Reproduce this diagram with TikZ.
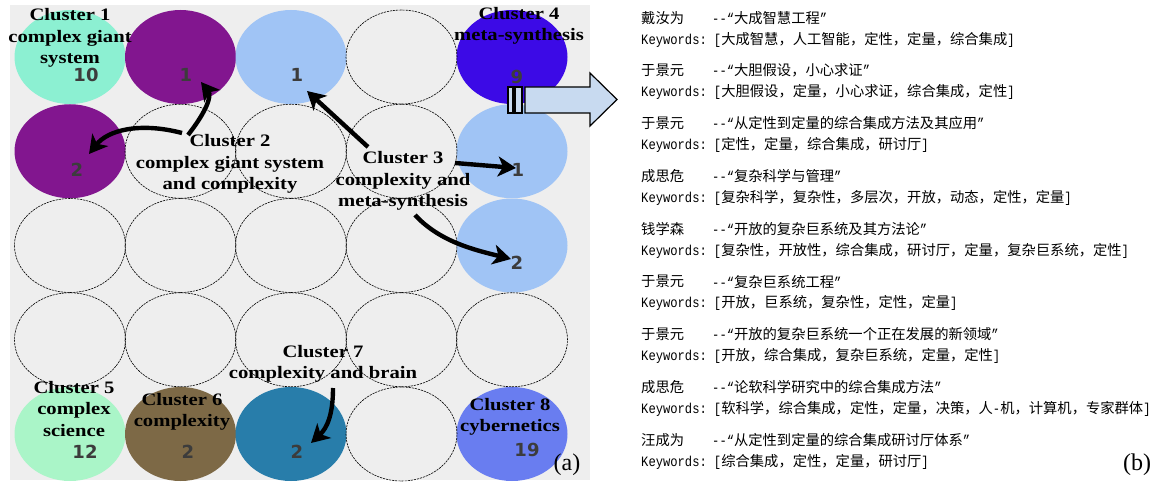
\documentclass[tikz,border=0pt]{standalone}
\usepackage{fontspec}
\setmainfont{Liberation Serif}
\newfontfamily\cjk{Noto Sans CJK SC}
\newfontfamily\mono[FakeStretch=0.85]{Liberation Mono}
\newfontfamily\clf[FakeStretch=1.18]{Liberation Serif}
\newfontfamily\numf{DejaVu Sans}
\usetikzlibrary{arrows.meta,shapes.geometric}
\definecolor{bgc}{HTML}{EEEEEE}
\definecolor{aqua}{HTML}{8CF0D2}
\definecolor{purp}{HTML}{82168F}
\definecolor{lblue}{HTML}{A0C4F5}
\definecolor{vblue}{HTML}{3C0AE6}
\definecolor{lgreen}{HTML}{AAF5C8}
\definecolor{brownsix}{HTML}{7D6946}
\definecolor{tealseven}{HTML}{287DAA}
\definecolor{blueeight}{HTML}{697DF0}
\definecolor{numgray}{HTML}{3C3C3C}
\definecolor{arrfill}{HTML}{C8DAF0}
\newcommand{\entr}[4]{%
  \node[txt] (a#1) at (641,{18+52.75*(#1-1)}) {\cjk #2};
  \node[txt] (b#1) at (712,{18+52.75*(#1-1)}) {\mono-\kern0pt-“\cjk #3\mono”};
  \node[txt] (k#1) at (641,{39.5+52.75*(#1-1)}) {\mono Keywords:\kern7.15pt[\cjk #4\mono]};
}
\begin{document}
\begin{tikzpicture}[x=1pt,y=-1pt,
  cell/.style={ellipse,inner sep=0,minimum width=111pt,minimum height=94pt},
  ecell/.style={cell,draw=black,line width=0.6pt,dash pattern=on 2.2pt off 0.9pt},
  cl/.style={font=\clf\bfseries\fontsize{17.5}{21.5}\selectfont,align=center,inner sep=0},
  num/.style={font=\numf\bfseries\fontsize{18}{22}\selectfont,text=numgray,inner sep=0},
  bigarr/.style={line width=4.4pt,-{Stealth[length=18pt,width=20pt,inset=5pt]}},
  txt/.style={anchor=west,inner sep=0,font=\fontsize{14.3}{16}\selectfont,text=black}]
\useasboundingbox (0,0) rectangle (1162,484);
\fill[bgc] (10,5) rectangle (590,480);
% filled cells
\foreach \r/\c/\col in {1/1/aqua,1/2/purp,1/3/lblue,1/5/vblue,2/1/purp,2/5/lblue,3/5/lblue,5/1/lgreen,5/2/brownsix,5/3/tealseven,5/5/blueeight}
  \node[cell,fill=\col] (c\r\c) at ({70+110.5*(\c-1)},{57+94.25*(\r-1)}) {};
% empty cells
\foreach \r/\c in {1/4,2/2,2/3,2/4,3/1,3/2,3/3,3/4,4/1,4/2,4/3,4/4,4/5,5/4}
  \node[ecell] (c\r\c) at ({70+110.5*(\c-1)},{57+94.25*(\r-1)}) {};
% numbers
\node[num] (n11) at (86,75) {10};
\node[num] (n12) at (186,75) {1};
\node[num] (n13) at (297,75) {1};
\node[num] (n15) at (517,77) {9};
\node[num] (n21) at (77,170) {2};
\node[num] (n25) at (518,170) {1};
\node[num] (n35) at (517,263) {2};
\node[num] (n51) at (85,452) {12};
\node[num] (n52) at (188,452) {2};
\node[num] (n53) at (297,452) {2};
\node[num] (n55) at (527,450) {19};
% cluster labels
\node[cl] (l1) at (70,38) {Cluster 1\\complex giant\\system};
\node[cl] (l2) at (230,164) {Cluster 2\\complex giant system\\and complexity};
\node[cl] (l3) at (403,181) {Cluster 3\\complexity and\\meta-synthesis};
\node[cl] (l4) at (519,26) {Cluster 4\\meta-synthesis};
\node[cl] (l5) at (74,409) {Cluster 5\\complex\\science};
\node[cl] (l6) at (182,412) {Cluster 6\\complexity};
\node[cl] (l7) at (323,364) {Cluster 7\\complexity and brain};
\node[cl] (l8) at (510,417) {Cluster 8\\cybernetics};
% arrows
\coordinate (s2a) at (188,135); \coordinate (t2a) at (201,82);
\coordinate (s2b) at (182,133); \coordinate (t2b) at (89,154);
\coordinate (s3a) at (368,147); \coordinate (t3a) at (307,91);
\coordinate (s3b) at (455,163); \coordinate (t3b) at (516,168);
\coordinate (s3c) at (415,215); \coordinate (t3c) at (511,259);
\coordinate (s7) at (333,388);  \coordinate (t7) at (311,443);
\draw[bigarr] (s2a) .. controls (206,112) and (212,96) .. (t2a);
\draw[bigarr] (s2b) .. controls (140,122) and (108,130) .. (t2b);
\draw[bigarr] (s3a) -- (t3a);
\draw[bigarr] (s3b) -- (t3b);
\draw[bigarr] (s3c) .. controls (440,242) and (475,250) .. (t3c);
\draw[bigarr] (s7) .. controls (333,415) and (327,428) .. (t7);
% block arrow
\draw[fill=arrfill,line width=1.2pt,line join=miter] (525,87) -- (590,87) -- (590,73) -- (617,99.5) -- (590,126) -- (590,113) -- (525,113) -- cycle;
\draw[fill=arrfill,line width=1.2pt] (508,87) rectangle (513,113);
\draw[fill=arrfill,line width=1.2pt] (515,87) rectangle (522,113);
% panel tags
\node[inner sep=0,font=\fontsize{24}{24}\selectfont] (pa) at (567,465) {(a)};
\node[inner sep=0,font=\fontsize{24}{24}\selectfont] (pb) at (1137,465) {(b)};
% entries
\entr{1}{戴汝为}{大成智慧工程}{大成智慧，人工智能，定性，定量，综合集成}
\entr{2}{于景元}{大胆假设，小心求证}{大胆假设，定量，小心求证，综合集成，定性}
\entr{3}{于景元}{从定性到定量的综合集成方法及其应用}{定性，定量，综合集成，研讨厅}
\entr{4}{成思危}{复杂科学与管理}{复杂科学，复杂性，多层次，开放，动态，定性，定量}
\entr{5}{钱学森}{开放的复杂巨系统及其方法论}{复杂性，开放性，综合集成，研讨厅，定量，复杂巨系统，定性}
\entr{6}{于景元}{复杂巨系统工程}{开放，巨系统，复杂性，定性，定量}
\entr{7}{于景元}{开放的复杂巨系统一个正在发展的新领域}{开放，综合集成，复杂巨系统，定量，定性}
\entr{8}{成思危}{论软科学研究中的综合集成方法}{软科学，综合集成，定性，定量，决策，人{\mono-}机，计算机，专家群体}
\entr{9}{汪成为}{从定性到定量的综合集成研讨厅体系}{综合集成，定性，定量，研讨厅}
\end{tikzpicture}
\end{document}
